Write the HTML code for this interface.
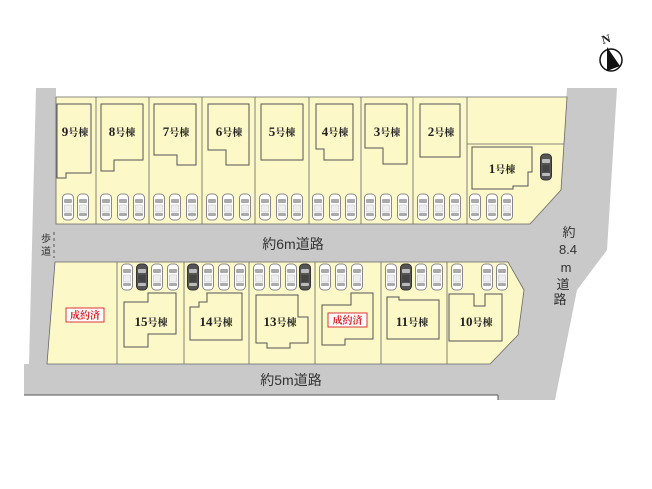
<!DOCTYPE html>
<html><head><meta charset="utf-8"><style>
html,body{margin:0;padding:0;background:#fff;}
svg{display:block;}
.b{font-family:"Liberation Serif","Noto Serif CJK SC",serif;font-weight:bold;fill:#222;}
.r{font-family:"Liberation Sans","Noto Sans CJK JP",sans-serif;fill:#333;}
</style></head><body>
<svg width="652" height="489" viewBox="0 0 652 489" xmlns="http://www.w3.org/2000/svg">
<defs>
<g id="car">
<rect x="-5.5" y="-13" width="11" height="26" rx="4" fill="#fff" stroke="#888" stroke-width="1"/>
<rect x="-4" y="-8" width="8" height="4" rx="1" fill="#aaa"/>
<rect x="-3.5" y="-2" width="7" height="7" fill="#eee" stroke="#bbb" stroke-width="0.5"/>
<rect x="-4" y="6" width="8" height="3" rx="1" fill="#aaa"/>
</g>
<g id="dcar">
<rect x="-5.5" y="-13" width="11" height="26" rx="4" fill="#555" stroke="#333" stroke-width="1"/>
<rect x="-4" y="-8" width="8" height="4" rx="1" fill="#bbb"/>
<rect x="-3.5" y="-2" width="7" height="7" fill="#444"/>
<rect x="-4" y="6" width="8" height="3" rx="1" fill="#bbb"/>
</g>
</defs>
<!-- roads -->
<polygon points="36,88 56,88 56,224 530,224 561,190 567,88 617,88 607,250 577,290 555,400 498,400 498,395 24,395 24,364 29,364" fill="#c9c9c9"/>
<line x1="24" y1="395" x2="498" y2="395" stroke="#555" stroke-width="1"/>
<line x1="498" y1="395" x2="498" y2="400" stroke="#555" stroke-width="1"/>
<line x1="54" y1="232" x2="54" y2="258" stroke="#555" stroke-width="1" stroke-dasharray="3,3"/>
<!-- top lots -->
<g fill="#fcf8c8" stroke="#666" stroke-width="0.8">
<polygon points="56,97 567,97 561,190 530,224 56,224"/>
</g>
<g stroke="#666" stroke-width="0.8">
<line x1="96" y1="97" x2="96" y2="224"/><line x1="149" y1="97" x2="149" y2="224"/>
<line x1="202" y1="97" x2="202" y2="224"/><line x1="255" y1="97" x2="255" y2="224"/>
<line x1="309" y1="97" x2="309" y2="224"/><line x1="361" y1="97" x2="361" y2="224"/>
<line x1="413" y1="97" x2="413" y2="224"/><line x1="467" y1="97" x2="467" y2="224"/>
<line x1="467" y1="144" x2="564" y2="144"/>
</g>
<g fill="none" stroke="#555" stroke-width="1">
<polygon points="57,104 91,104 91,173 66,173 66,178 57,178"/>
<polygon points="101,104 143,104 143,160 114,160 114,171 101,171"/>
<polygon points="154,104 196,104 196,165 177,165 177,155 154,155"/>
<polygon points="208,104 249,104 249,165 226,165 226,150 208,150"/>
<polygon points="261,104 303,104 303,160 261,160"/>
<polygon points="316,104 353,104 353,160 324,160 324,149 316,149"/>
<polygon points="365,104 407,104 407,164 383,164 383,148 365,148"/>
<polygon points="420,104 460,104 460,157 420,157"/>
<polygon points="472,147 532,147 532,172 528,172 528,186 513,186 513,189 472,189"/>
</g>
<!-- bottom lots -->
<polygon points="55,262 508,262 524,290 518,335 490,364 47,364" fill="#fcf8c8" stroke="#666" stroke-width="0.8"/>
<g stroke="#666" stroke-width="0.8">
<line x1="117" y1="262" x2="117" y2="364"/><line x1="184" y1="262" x2="184" y2="364"/>
<line x1="249" y1="262" x2="249" y2="364"/><line x1="315" y1="262" x2="315" y2="364"/>
<line x1="381" y1="262" x2="381" y2="364"/><line x1="447" y1="262" x2="447" y2="364"/>
</g>
<g fill="none" stroke="#555" stroke-width="1">
<polygon points="124,302 148,302 148,293 176,293 176,334 148,334 148,347 124,347"/>
<polygon points="190,307 199,307 199,302 207,302 207,293 242,293 242,340 190,340"/>
<polygon points="256,295 298,295 298,317 308,317 308,343 290,343 290,348 267,348 267,343 256,343"/>
<polygon points="322,305 351,305 351,293 373,293 373,339 345,339 345,345 322,345"/>
<polygon points="387,297 399,297 399,300 439,300 439,339 387,339"/>
<polygon points="449,294 474,294 474,306 485,306 485,294 502,294 502,341 449,341"/>
</g>
<!-- cars top -->
<g>
<use href="#car" x="68" y="207"/><use href="#car" x="83" y="207"/>
<use href="#car" x="106" y="207"/><use href="#car" x="123" y="207"/><use href="#car" x="139" y="207"/>
<use href="#car" x="159" y="207"/><use href="#car" x="175" y="207"/><use href="#car" x="192" y="207"/>
<use href="#car" x="212" y="207"/><use href="#car" x="228" y="207"/><use href="#car" x="245" y="207"/>
<use href="#car" x="265" y="207"/><use href="#car" x="282" y="207"/><use href="#car" x="297" y="207"/>
<use href="#car" x="318" y="207"/><use href="#car" x="335" y="207"/><use href="#car" x="351" y="207"/>
<use href="#car" x="370" y="207"/><use href="#car" x="386" y="207"/><use href="#car" x="403" y="207"/>
<use href="#car" x="423" y="207"/><use href="#car" x="439" y="207"/><use href="#car" x="455" y="207"/>
<use href="#car" x="475" y="207"/><use href="#car" x="492" y="207"/><use href="#car" x="507" y="207"/>
<use href="#dcar" x="546" y="167"/>
</g>
<!-- cars bottom -->
<g>
<use href="#car" x="127" y="277"/><use href="#dcar" x="142" y="277"/><use href="#car" x="157" y="277"/><use href="#car" x="173" y="277"/>
<use href="#dcar" x="193" y="277"/><use href="#car" x="208" y="277"/><use href="#car" x="224" y="277"/><use href="#car" x="240" y="277"/>
<use href="#car" x="259" y="277"/><use href="#car" x="275" y="277"/><use href="#car" x="291" y="277"/><use href="#dcar" x="305" y="277"/>
<use href="#car" x="325" y="277"/><use href="#car" x="341" y="277"/><use href="#car" x="357" y="277"/>
<use href="#car" x="391" y="277"/><use href="#dcar" x="406" y="277"/><use href="#car" x="421" y="277"/><use href="#car" x="437" y="277"/>
<use href="#car" x="457" y="277"/><use href="#car" x="487" y="277"/><use href="#car" x="502" y="277"/>
</g>
<!-- labels -->
<g class="b" text-anchor="middle">
<text x="75" y="136"><tspan font-size="13">9</tspan><tspan font-size="10">号棟</tspan></text>
<text x="122" y="136"><tspan font-size="13">8</tspan><tspan font-size="10">号棟</tspan></text>
<text x="176" y="136"><tspan font-size="13">7</tspan><tspan font-size="10">号棟</tspan></text>
<text x="229" y="136"><tspan font-size="13">6</tspan><tspan font-size="10">号棟</tspan></text>
<text x="282" y="136"><tspan font-size="13">5</tspan><tspan font-size="10">号棟</tspan></text>
<text x="335" y="136"><tspan font-size="13">4</tspan><tspan font-size="10">号棟</tspan></text>
<text x="387" y="136"><tspan font-size="13">3</tspan><tspan font-size="10">号棟</tspan></text>
<text x="441" y="136"><tspan font-size="13">2</tspan><tspan font-size="10">号棟</tspan></text>
<text x="502" y="173"><tspan font-size="13">1</tspan><tspan font-size="10">号棟</tspan></text>
<text x="151" y="326"><tspan font-size="13">15</tspan><tspan font-size="10">号棟</tspan></text>
<text x="216" y="326"><tspan font-size="13">14</tspan><tspan font-size="10">号棟</tspan></text>
<text x="280" y="326"><tspan font-size="13">13</tspan><tspan font-size="10">号棟</tspan></text>
<text x="412" y="326"><tspan font-size="13">11</tspan><tspan font-size="10">号棟</tspan></text>
<text x="476" y="326"><tspan font-size="13">10</tspan><tspan font-size="10">号棟</tspan></text>
</g>
<rect x="66" y="308" width="38" height="14" fill="#fff" stroke="#d33" stroke-width="1"/>
<text x="85" y="319" class="b" font-size="10" text-anchor="middle" style="fill:#d2202a">成約済</text>
<rect x="328" y="313" width="39" height="14" fill="#fff" stroke="#d33" stroke-width="1"/>
<text x="347.5" y="324" class="b" font-size="10" text-anchor="middle" style="fill:#d2202a">成約済</text>
<!-- road labels -->
<g class="r">
<text x="293" y="249" font-size="14" text-anchor="middle">約6m道路</text>
<text x="291" y="385" font-size="14" text-anchor="middle">約5m道路</text>
<text x="41" y="242" font-size="10">歩</text>
<text x="41" y="255" font-size="10">道</text>
<g font-size="13" text-anchor="middle">
<text x="569" y="237">約</text>
<text x="568" y="254">8.4</text>
<text x="566" y="272">m</text>
<text x="563" y="289">道</text>
<text x="560" y="304">路</text>
</g>
</g>
<!-- compass -->
<circle cx="611" cy="60" r="11" fill="#fff" stroke="#111" stroke-width="1.5"/>
<polygon points="607,47 607,71 620,66" fill="#111"/>
<text x="606" y="43" class="b" font-size="12" text-anchor="middle" transform="rotate(-15 606 39)">N</text>
</svg>
</body></html>
